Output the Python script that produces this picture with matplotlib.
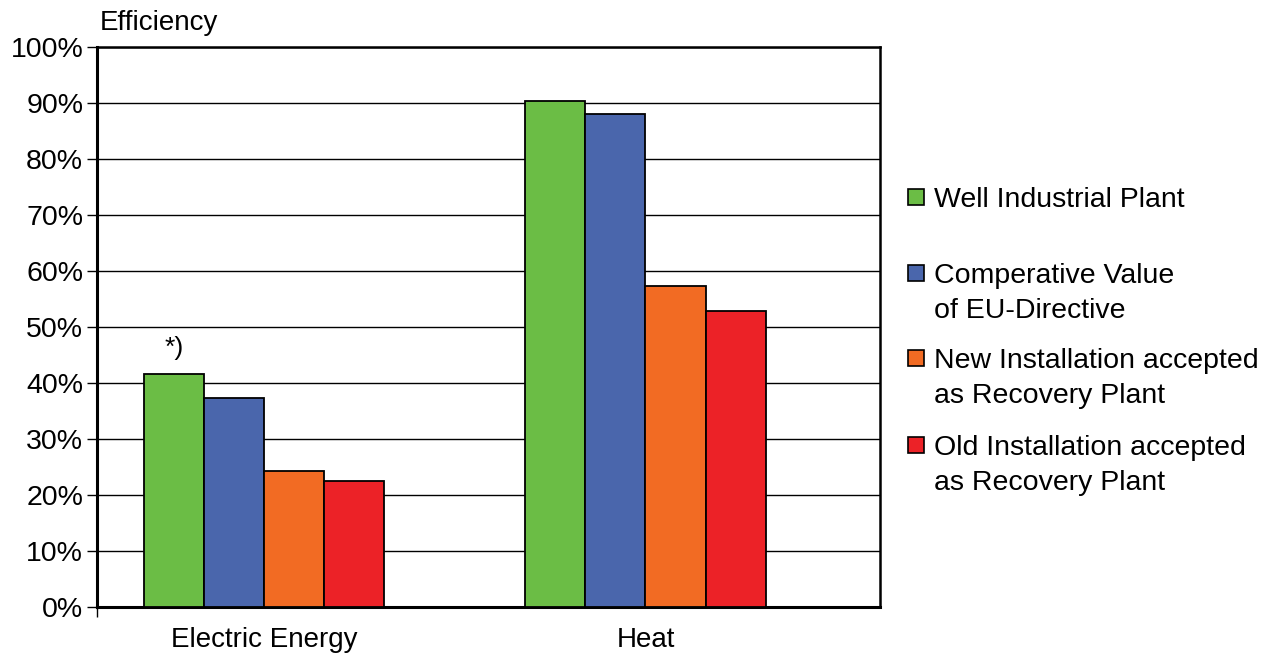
import matplotlib.pyplot as plt
import numpy as np
from matplotlib.patches import Rectangle

plt.rcParams['font.family'] = ['Liberation Sans', 'DejaVu Sans']

categories = ['Electric Energy', 'Heat']
series_names = ['Well Industrial Plant',
                'Comperative Value\nof EU-Directive',
                'New Installation accepted\nas Recovery Plant',
                'Old Installation accepted\nas Recovery Plant']
well_plant = [41.6, 90.4]
eu_directive = [37.3, 88.0]
new_install = [24.3, 57.3]
old_install = [22.5, 52.9]
colors = ['#6BBD45', '#4A66AC', '#F26B23', '#EC2227']
yticks = list(range(0, 101, 10))

fig = plt.figure(figsize=(12.67, 6.55), dpi=100)
ax = fig.add_axes([0.0766, 0.0733, 0.618, 0.855])

x = np.arange(len(categories))
w = 0.1575
all_series = [well_plant, eu_directive, new_install, old_install]
for i, vals in enumerate(all_series):
    ax.bar(x + (i - 1.5) * w, vals, width=w, color=colors[i],
           edgecolor='black', linewidth=1.3, zorder=3)

ax.text(x[0] - 1.5 * w, well_plant[0] + 2.5, '*)', ha='center', va='bottom', fontsize=19)

ax.set_ylim(0, 100)
ax.set_xlim(-0.438, 1.615)
ax.set_yticks(yticks)
ax.set_yticklabels([f'{t}%' for t in yticks], fontsize=20.5)
ax.yaxis.grid(True, color='black', linewidth=1.0, zorder=1)
ax.tick_params(axis='y', length=7, width=1.0, pad=3)

ax.set_xticks([ax.get_xlim()[0]])
ax.set_xticklabels([''])
ax.tick_params(axis='x', length=7, width=1.0)
for xi, cat in zip(x, categories):
    ax.text(xi, -3.5, cat, ha='center', va='top', fontsize=20,
            transform=ax.transData)

for s in ['left', 'bottom']:
    ax.spines[s].set_linewidth(2.2)
for s in ['top', 'right']:
    ax.spines[s].set_linewidth(1.8)

fig.text(100 / 1267, 1 - 23 / 655, 'Efficiency', ha='left', va='center', fontsize=20)

# legend drawn by hand so that the swatch sits on the first line
leg_y = [197, 273, 358, 445]
H, W = 655, 1267
for name, c, yp in zip(series_names, colors, leg_y):
    fig.patches.append(Rectangle((908 / W, 1 - (yp + 8) / H), 16 / W, 16 / H,
                                 transform=fig.transFigure, facecolor=c,
                                 edgecolor='black', linewidth=1.2))
    for k, line in enumerate(name.split('\n')):
        fig.text(934 / W, 1 - (yp + 35 * k) / H, line, ha='left',
                 va='center_baseline', fontsize=20.5)

fig.savefig('out.png', dpi=100)
